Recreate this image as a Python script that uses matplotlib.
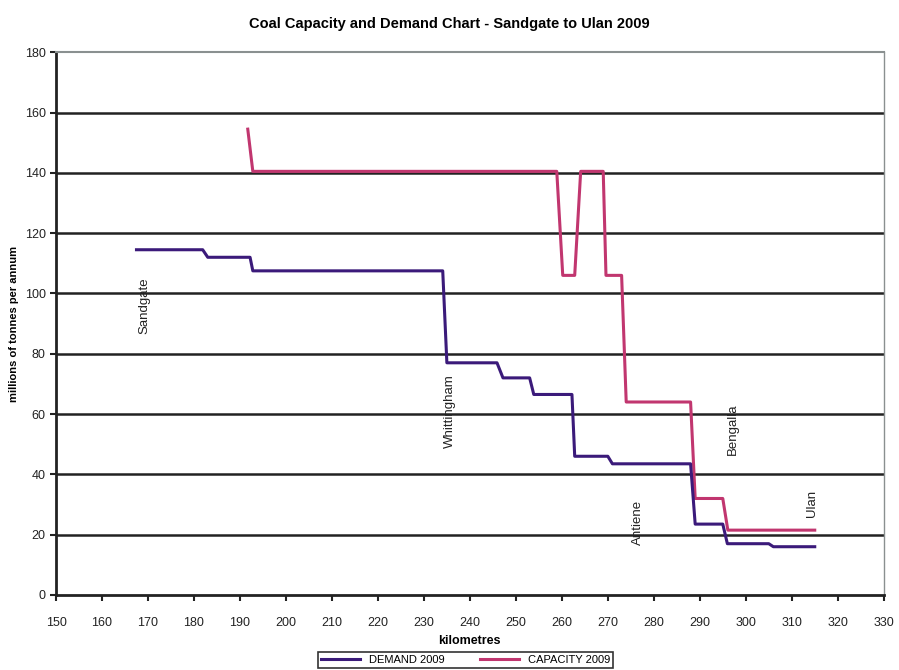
import matplotlib.pyplot as plt

plt.rcParams['font.family'] = ['Liberation Sans', 'DejaVu Sans']

# demand 2009 (km, mtpa)
demand_km = [167.5, 181.9, 183.0, 192.2, 192.8, 234.1, 235.0, 245.9, 247.2, 253.0, 253.9,
             262.2, 262.8, 270.0, 271.0, 288.0, 289.0, 295.0, 296.0, 305.0, 306.0, 315.0]
demand_val = [114.5, 114.5, 112, 112, 107.5, 107.5, 77, 77, 72, 72, 66.5,
              66.5, 46, 46, 43.5, 43.5, 23.5, 23.5, 17, 17, 16, 16]

# capacity 2009
capacity_km = [191.7, 192.8, 258.9, 260.2, 262.8, 264.1, 269.0, 269.6, 273.0, 274.0,
               288.0, 289.0, 295.0, 296.1, 315.0]
capacity_val = [154.5, 140.5, 140.5, 106, 106, 140.5, 140.5, 106, 106, 64,
                64, 32, 32, 21.5, 21.5]

# location labels
places = ['Sandgate', 'Whittingham', 'Antiene', 'Bengalla', 'Ulan']
place_km = [169.3, 235.6, 276.6, 297.2, 314.4]
place_y = [96, 61, 24, 55, 30.5]

demand_color = '#3b1a7a'
capacity_color = '#c1366f'

fig = plt.figure(figsize=(8.99, 6.70), dpi=100)
ax = fig.add_axes([0.0623, 0.112, 0.9207, 0.810])

for y in range(20, 180, 20):
    ax.axhline(y, color='#222222', lw=1.8, zorder=1)

ax.plot(demand_km, demand_val, color=demand_color, lw=2.2, label='DEMAND 2009', zorder=3)
ax.plot(capacity_km, capacity_val, color=capacity_color, lw=2.2, label='CAPACITY 2009', zorder=2)

for name, x, y in zip(places, place_km, place_y):
    ax.text(x, y, name, rotation=90, ha='center', va='center', fontsize=9.5, color='#222222')

ax.set_xlim(150, 330)
ax.set_ylim(0, 180)
ax.set_xticks(range(150, 331, 10))
ax.set_yticks(range(0, 181, 20))
ax.tick_params(axis='both', direction='out', length=4, width=1.5, labelsize=9, colors='#222222')
ax.tick_params(axis='x', pad=12)

ax.spines['left'].set_linewidth(2)
ax.spines['bottom'].set_linewidth(2)
ax.spines['left'].set_color('#222222')
ax.spines['bottom'].set_color('#222222')
ax.spines['top'].set_color('#8a9090')
ax.spines['right'].set_color('#8a9090')
ax.spines['top'].set_linewidth(1.5)
ax.spines['right'].set_linewidth(1.0)

ax.set_xlabel('kilometres', fontsize=9, fontweight='bold', labelpad=4)
ax.set_ylabel('millions of tonnes per annum', fontsize=8, fontweight='bold', labelpad=4)
fig.suptitle('Coal Capacity and Demand Chart - Sandgate to Ulan 2009', fontsize=10.5,
             fontweight='bold', y=0.975)

leg = fig.legend(loc='lower center', bbox_to_anchor=(0.518, -0.005), ncol=2, fontsize=8,
                 frameon=True, fancybox=False, edgecolor='black', handlelength=3.5,
                 columnspacing=3.2, borderpad=0.25, handletextpad=0.8)
leg.get_frame().set_linewidth(1.2)

fig.savefig('out.png', dpi=100)
